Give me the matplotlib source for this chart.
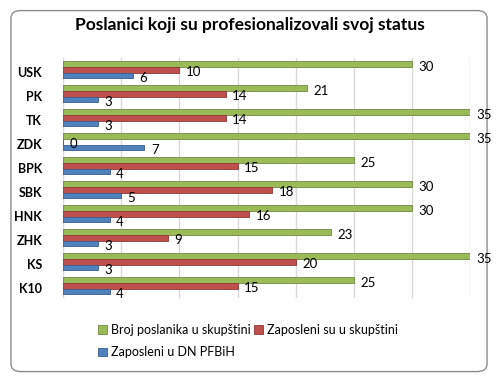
import matplotlib
matplotlib.use("Agg")
import matplotlib.pyplot as plt
import numpy as np
from matplotlib.patches import FancyBboxPatch

plt.rcParams["font.family"] = ["Lato", "DejaVu Sans"]

categories = ["USK", "PK", "TK", "ZDK", "BPK", "SBK", "HNK", "ZHK", "KS", "K10"]
broj_poslanika = [30, 21, 35, 35, 25, 30, 30, 23, 35, 25]
zaposleni_skupstina = [10, 14, 14, 0, 15, 18, 16, 9, 20, 15]
zaposleni_dn = [6, 3, 3, 7, 4, 5, 4, 3, 3, 4]

series = [
    ("Broj poslanika u skupštini", broj_poslanika, "#9BBB59", "#71893F", -0.235),
    ("Zaposleni su u skupštini", zaposleni_skupstina, "#C0504D", "#8C3836", 0.0),
    ("Zaposleni u DN PFBiH", zaposleni_dn, "#4F81BD", "#385D8A", 0.235),
]

fig = plt.figure(figsize=(4.98, 3.78), dpi=100)
fig.patches.append(FancyBboxPatch((0.022, 0.017), 0.956, 0.955,
                                  boxstyle="round,pad=0,rounding_size=0.02",
                                  transform=fig.transFigure, facecolor="white",
                                  edgecolor="#8C8C8C", lw=1.0, zorder=-1))

ax = fig.add_axes([0.1265, 0.212, 0.818, 0.635])
ax.set_zorder(2)
ax.set_facecolor("none")
y = np.arange(len(categories))

handles = {}
for name, vals, col, edge, off in series:
    b = ax.barh(y + off, vals, height=0.235, color=col, edgecolor=edge, lw=0.6, zorder=3)
    handles[name] = b
    for yi, v in zip(y, vals):
        ax.text(v + 0.55, yi + off + 0.1, str(v), va="center", ha="left",
                fontsize=9.5, color="black", zorder=4, clip_on=False)

ax.set_xlim(0, 35)
ax.set_ylim(len(categories) - 0.5, -0.5)
ax.set_xticks(np.arange(0, 36, 5))
ax.set_xticklabels([])
ax.grid(axis="x", color="#D9D9D9", lw=1.0, zorder=0)
ax.tick_params(length=0)
ax.set_yticks(y + 0.08)
ax.set_yticklabels(categories, fontsize=9, fontweight="bold")
ax.tick_params(axis="y", pad=15)
for s in ax.spines.values():
    s.set_visible(False)

fig.text(0.502, 0.935, "Poslanici koji su profesionalizovali svoj status",
         ha="center", va="center", fontsize=12.5, fontweight="bold")

order = ["Broj poslanika u skupštini", "Zaposleni u DN PFBiH", "Zaposleni su u skupštini"]
fig.legend([handles[n] for n in order], order, ncol=2, loc="upper left",
           bbox_to_anchor=(0.185, 0.16), frameon=False, fontsize=9,
           handlelength=0.7, handleheight=0.7, handletextpad=0.3,
           columnspacing=0.3, labelspacing=0.85, borderpad=0)

fig.savefig("out.png", dpi=100)
